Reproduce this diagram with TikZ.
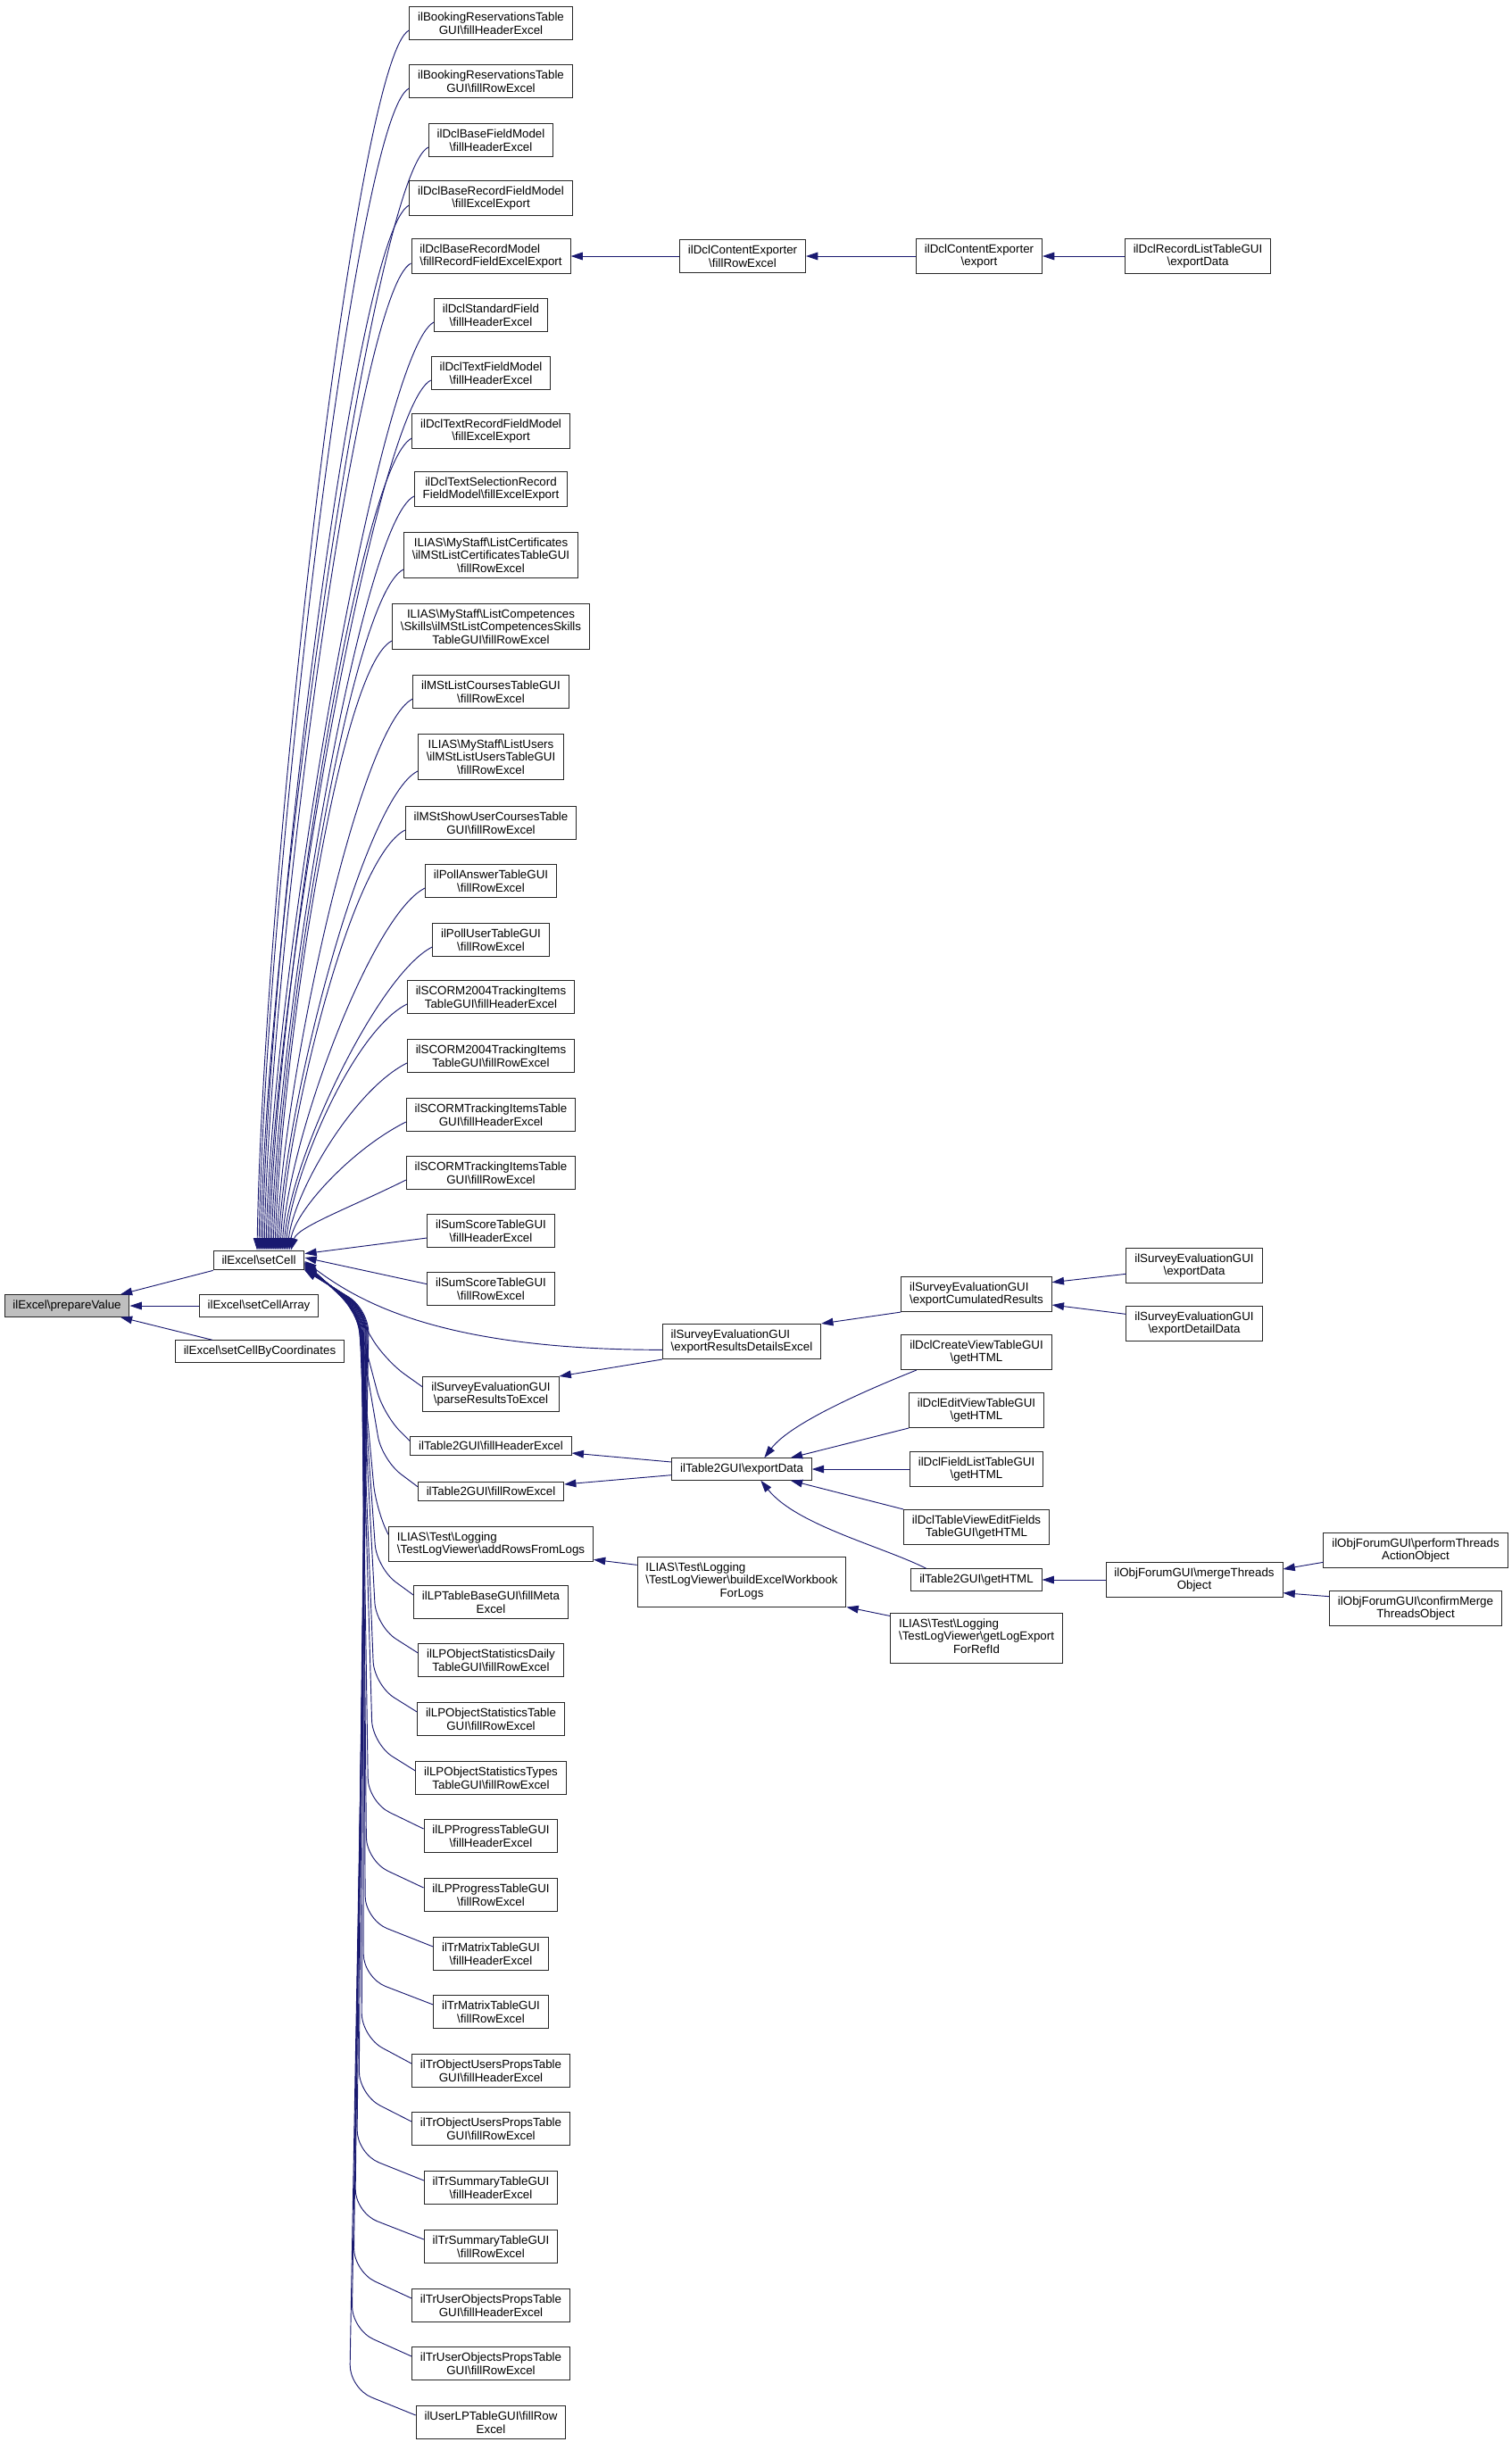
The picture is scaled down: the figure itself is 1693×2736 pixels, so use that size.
\documentclass[tikz,border=0pt]{standalone}
\usepackage{fontspec}
\setmainfont{Liberation Sans}
\usetikzlibrary{arrows.meta,calc}
\definecolor{midnightblue}{RGB}{25,25,112}
\newcommand{\bs}{\textbackslash}

\begin{document}
\begin{tikzpicture}[x=0.75pt, y=-0.75pt,
		box/.style={draw=black!85, line width=0.75pt, fill=white, align=center, inner xsep=7pt, inner ysep=4.5pt, font=\fontsize{10}{11}\selectfont},
		lbox/.style={box, align=left},
		call/.style={draw=midnightblue, line width=0.7pt, -{Triangle[length=10pt,width=6.5pt]}},
		bundle/.style={call, rounded corners=20pt}]
		\useasboundingbox (0,0) rectangle (1693,2736);
		% ilExcel:
		\node[box, fill=black!25] (prepareValue) at (75, 1463) {ilExcel\bs prepareValue};
		\node[box] (setCell) at (290, 1412) {ilExcel\bs setCell};
		\node[box] (setCellArray) at (290, 1463) {ilExcel\bs setCellArray};
		\node[box] (setCellByCoord) at (291, 1514) {ilExcel\bs setCellByCoordinates};
		% Callers of setCell:
		\node[box] (bookHead) at (550, 26) {ilBookingReservationsTable\\GUI\bs fillHeaderExcel};
		\node[box] (bookRow) at (550, 91) {ilBookingReservationsTable\\GUI\bs fillRowExcel};
		\node[box] (dclField) at (550, 157) {ilDclBaseFieldModel\\\bs fillHeaderExcel};
		\node[box] (dclRecField) at (550, 222) {ilDclBaseRecordFieldModel\\\bs fillExcelExport};
		\node[lbox] (dclRecModel) at (550, 287) {ilDclBaseRecordModel\\\bs fillRecordFieldExcelExport};
		\node[box] (dclStdField) at (550, 353) {ilDclStandardField\\\bs fillHeaderExcel};
		\node[box] (dclTextField) at (550, 418) {ilDclTextFieldModel\\\bs fillHeaderExcel};
		\node[box] (dclTextRec) at (550, 483) {ilDclTextRecordFieldModel\\\bs fillExcelExport};
		\node[box] (dclTextSel) at (550, 548) {ilDclTextSelectionRecord\\FieldModel\bs fillExcelExport};
		\node[box] (msCert) at (550, 622) {ILIAS\bs MyStaff\bs ListCertificates\\\bs ilMStListCertificatesTableGUI\\\bs fillRowExcel};
		\node[box] (msComp) at (550, 702) {ILIAS\bs MyStaff\bs ListCompetences\\\bs Skills\bs ilMStListCompetencesSkills\\TableGUI\bs fillRowExcel};
		\node[box] (msCourses) at (550, 775) {ilMStListCoursesTableGUI\\\bs fillRowExcel};
		\node[box] (msUsers) at (550, 848) {ILIAS\bs MyStaff\bs ListUsers\\\bs ilMStListUsersTableGUI\\\bs fillRowExcel};
		\node[box] (msShowUser) at (550, 922) {ilMStShowUserCoursesTable\\GUI\bs fillRowExcel};
		\node[box] (pollAnswer) at (550, 987) {ilPollAnswerTableGUI\\\bs fillRowExcel};
		\node[box] (pollUser) at (550, 1053) {ilPollUserTableGUI\\\bs fillRowExcel};
		\node[box] (scorm04Head) at (550, 1117) {ilSCORM2004TrackingItems\\TableGUI\bs fillHeaderExcel};
		\node[box] (scorm04Row) at (550, 1183) {ilSCORM2004TrackingItems\\TableGUI\bs fillRowExcel};
		\node[box] (scormHead) at (550, 1249) {ilSCORMTrackingItemsTable\\GUI\bs fillHeaderExcel};
		\node[box] (scormRow) at (550, 1314) {ilSCORMTrackingItemsTable\\GUI\bs fillRowExcel};
		\node[box] (sumHead) at (550, 1379) {ilSumScoreTableGUI\\\bs fillHeaderExcel};
		\node[box] (sumRow) at (550, 1444) {ilSumScoreTableGUI\\\bs fillRowExcel};
		\node[box] (svParse) at (550, 1562) {ilSurveyEvaluationGUI\\\bs parseResultsToExcel};
		\node[box] (t2Head) at (550, 1620) {ilTable2GUI\bs fillHeaderExcel};
		\node[box] (t2Row) at (550, 1671) {ilTable2GUI\bs fillRowExcel};
		\node[lbox] (logRows) at (550, 1730) {ILIAS\bs Test\bs Logging\\\bs TestLogViewer\bs addRowsFromLogs};
		\node[box] (lpMeta) at (550, 1795) {ilLPTableBaseGUI\bs fillMeta\\Excel};
		\node[box] (lpDaily) at (550, 1860) {ilLPObjectStatisticsDaily\\TableGUI\bs fillRowExcel};
		\node[box] (lpStats) at (550, 1926) {ilLPObjectStatisticsTable\\GUI\bs fillRowExcel};
		\node[box] (lpTypes) at (550, 1992) {ilLPObjectStatisticsTypes\\TableGUI\bs fillRowExcel};
		\node[box] (lpProgHead) at (550, 2057) {ilLPProgressTableGUI\\\bs fillHeaderExcel};
		\node[box] (lpProgRow) at (550, 2123) {ilLPProgressTableGUI\\\bs fillRowExcel};
		\node[box] (trMatHead) at (550, 2189) {ilTrMatrixTableGUI\\\bs fillHeaderExcel};
		\node[box] (trMatRow) at (550, 2254) {ilTrMatrixTableGUI\\\bs fillRowExcel};
		\node[box] (trObjHead) at (550, 2320) {ilTrObjectUsersPropsTable\\GUI\bs fillHeaderExcel};
		\node[box] (trObjRow) at (550, 2385) {ilTrObjectUsersPropsTable\\GUI\bs fillRowExcel};
		\node[box] (trSumHead) at (550, 2451) {ilTrSummaryTableGUI\\\bs fillHeaderExcel};
		\node[box] (trSumRow) at (550, 2517) {ilTrSummaryTableGUI\\\bs fillRowExcel};
		\node[box] (trUserHead) at (550, 2583) {ilTrUserObjectsPropsTable\\GUI\bs fillHeaderExcel};
		\node[box] (trUserRow) at (550, 2648) {ilTrUserObjectsPropsTable\\GUI\bs fillRowExcel};
		\node[box] (userLP) at (550, 2714) {ilUserLPTableGUI\bs fillRow\\Excel};
		% Further callers:
		\node[box] (contentFillRow) at (832, 287) {ilDclContentExporter\\\bs fillRowExcel};
		\node[box] (contentExport) at (1097, 287) {ilDclContentExporter\\\bs export};
		\node[box] (recordList) at (1342, 287) {ilDclRecordListTableGUI\\\bs exportData};
		\node[lbox] (svDetails) at (831, 1503) {ilSurveyEvaluationGUI\\\bs exportResultsDetailsExcel};
		\node[lbox] (svCumulated) at (1094, 1450) {ilSurveyEvaluationGUI\\\bs exportCumulatedResults};
		\node[box] (svExportData) at (1338, 1418) {ilSurveyEvaluationGUI\\\bs exportData};
		\node[box] (svDetailData) at (1338, 1483) {ilSurveyEvaluationGUI\\\bs exportDetailData};
		\node[box] (t2Export) at (831, 1646) {ilTable2GUI\bs exportData};
		\node[box] (dclCreateView) at (1094, 1515) {ilDclCreateViewTableGUI\\\bs getHTML};
		\node[box] (dclEditView) at (1094, 1580) {ilDclEditViewTableGUI\\\bs getHTML};
		\node[box] (dclFieldList) at (1094, 1646) {ilDclFieldListTableGUI\\\bs getHTML};
		\node[box] (dclTableView) at (1094, 1711) {ilDclTableViewEditFields\\TableGUI\bs getHTML};
		\node[box] (t2GetHTML) at (1094, 1770) {ilTable2GUI\bs getHTML};
		\node[box] (forumMerge) at (1338, 1770) {ilObjForumGUI\bs mergeThreads\\Object};
		\node[box] (forumPerform) at (1586, 1737) {ilObjForumGUI\bs performThreads\\ActionObject};
		\node[box] (forumConfirm) at (1586, 1802) {ilObjForumGUI\bs confirmMerge\\ThreadsObject};
		\node[box] (logBuild) at (831, 1772) {\begin{tabular}{@{}l@{}}ILIAS\bs Test\bs Logging\\\bs TestLogViewer\bs buildExcelWorkbook\\\multicolumn{1}{@{}c@{}}{ForLogs}\end{tabular}};
		\node[box] (logExport) at (1094, 1835) {\begin{tabular}{@{}l@{}}ILIAS\bs Test\bs Logging\\\bs TestLogViewer\bs getLogExport\\\multicolumn{1}{@{}c@{}}{ForRefId}\end{tabular}};
		% Calls into prepareValue:
		\draw[call] (setCell.south west) -- ([xshift=-8pt]prepareValue.north east);
		\draw[call] (setCellArray.west) -- (prepareValue.east);
		\draw[call] ($(setCellByCoord.north west)+(42,0)$) -- ([xshift=-8pt]prepareValue.south east);
		% Calls into setCell from above:
		\draw[call] ([yshift=-6pt]bookHead.west) .. controls +(-60,30) and +(7,-412) .. ($(setCell.north)+(-2,0)$);
		\draw[call] ([yshift=-6pt]bookRow.west) .. controls +(-60,30) and +(7,-392) .. ($(setCell.north)+(0,0)$);
		\draw[call] ([yshift=-6pt]dclField.west) .. controls +(-60,30) and +(7,-373) .. ($(setCell.north)+(2,0)$);
		\draw[call] ([yshift=-6pt]dclRecField.west) .. controls +(-60,30) and +(7,-353) .. ($(setCell.north)+(4,0)$);
		\draw[call] ([yshift=-6pt]dclRecModel.west) .. controls +(-60,30) and +(7,-334) .. ($(setCell.north)+(6,0)$);
		\draw[call] ([yshift=-6pt]dclStdField.west) .. controls +(-60,30) and +(7,-314) .. ($(setCell.north)+(8,0)$);
		\draw[call] ([yshift=-6pt]dclTextField.west) .. controls +(-60,30) and +(7,-294) .. ($(setCell.north)+(10,0)$);
		\draw[call] ([yshift=-6pt]dclTextRec.west) .. controls +(-60,30) and +(7,-275) .. ($(setCell.north)+(12,0)$);
		\draw[call] ([yshift=-6pt]dclTextSel.west) .. controls +(-60,30) and +(7,-255) .. ($(setCell.north)+(14,0)$);
		\draw[call] ([yshift=-12pt]msCert.west) .. controls +(-60,30) and +(7,-233) .. ($(setCell.north)+(16,0)$);
		\draw[call] ([yshift=-12pt]msComp.west) .. controls +(-60,30) and +(7,-209) .. ($(setCell.north)+(18,0)$);
		\draw[call] ([yshift=-6pt]msCourses.west) .. controls +(-60,30) and +(7,-187) .. ($(setCell.north)+(20,0)$);
		\draw[call] ([yshift=-12pt]msUsers.west) .. controls +(-60,30) and +(7,-165) .. ($(setCell.north)+(22,0)$);
		\draw[call] ([yshift=-6pt]msShowUser.west) .. controls +(-60,30) and +(7,-143) .. ($(setCell.north)+(24,0)$);
		\draw[call] ([yshift=-6pt]pollAnswer.west) .. controls +(-60,30) and +(7,-124) .. ($(setCell.north)+(26,0)$);
		\draw[call] ([yshift=-6pt]pollUser.west) .. controls +(-60,30) and +(7,-104) .. ($(setCell.north)+(28,0)$);
		\draw[call] ([yshift=-6pt]scorm04Head.west) .. controls +(-60,30) and +(7,-85) .. ($(setCell.north)+(30,0)$);
		\draw[call] ([yshift=-6pt]scorm04Row.west) .. controls +(-60,30) and +(7,-65) .. ($(setCell.north)+(32,0)$);
		\draw[call] ([yshift=-6pt]scormHead.west) .. controls +(-60,30) and +(7,-45) .. ($(setCell.north)+(34,0)$);
		\draw[call] ([yshift=-6pt]scormRow.west) .. controls +(-60,30) and +(7,-26) .. ($(setCell.north)+(36,0)$);
		\draw[call] ([yshift=-6pt]sumHead.west) -- ($(setCell.north east)+(0,4)$);
		% Calls into setCell from below:
		\draw[call] ([yshift=4pt]sumRow.west) -- ($(setCell.east)+(0,-3)$);
		\draw[call] ([yshift=-7pt]svDetails.west) .. controls +(-250,0) and +(60,45) .. ($(setCell.east)+(0,1)$);
		\draw[bundle] ([yshift=6pt]svParse.west) -- ++(-42,-30) -- ($(setCell.east)+(56,55)$) -- ($(setCell.east)+(0,2)$);
		\draw[bundle] ([yshift=4pt]t2Head.west) -- ++(-30,-30) -- ($(setCell.east)+(57,55)$) -- ($(setCell.east)+(0,3)$);
		\draw[bundle] ([yshift=4pt]t2Row.west) -- ++(-40,-30) -- ($(setCell.east)+(58,55)$) -- ($(setCell.east)+(0,3)$);
		\draw[bundle] ([yshift=8pt]logRows.west) -- ++(-14,-30) -- ($(setCell.east)+(59,55)$) -- ($(setCell.east)+(0,4)$);
		\draw[bundle] ([yshift=6pt]lpMeta.west) -- ++(-41,-30) -- ($(setCell.east)+(60,55)$) -- ($(setCell.east)+(0,4)$);
		\draw[bundle] ([yshift=6pt]lpDaily.west) -- ++(-47,-30) -- ($(setCell.east)+(61,55)$) -- ($(setCell.east)+(0,5)$);
		\draw[bundle] ([yshift=6pt]lpStats.west) -- ++(-48,-30) -- ($(setCell.east)+(61,55)$) -- ($(setCell.east)+(0,5)$);
		\draw[bundle] ([yshift=6pt]lpTypes.west) -- ++(-48,-30) -- ($(setCell.east)+(62,55)$) -- ($(setCell.east)+(0,6)$);
		\draw[bundle] ([yshift=6pt]lpProgHead.west) -- ++(-62,-30) -- ($(setCell.east)+(63,55)$) -- ($(setCell.east)+(0,6)$);
		\draw[bundle] ([yshift=6pt]lpProgRow.west) -- ++(-64,-30) -- ($(setCell.east)+(64,55)$) -- ($(setCell.east)+(0,7)$);
		\draw[bundle] ([yshift=6pt]trMatHead.west) -- ++(-76,-30) -- ($(setCell.east)+(65,55)$) -- ($(setCell.east)+(0,7)$);
		\draw[bundle] ([yshift=6pt]trMatRow.west) -- ++(-78,-30) -- ($(setCell.east)+(66,55)$) -- ($(setCell.east)+(0,8)$);
		\draw[bundle] ([yshift=6pt]trObjHead.west) -- ++(-56,-30) -- ($(setCell.east)+(67,55)$) -- ($(setCell.east)+(0,8)$);
		\draw[bundle] ([yshift=6pt]trObjRow.west) -- ++(-59,-30) -- ($(setCell.east)+(68,55)$) -- ($(setCell.east)+(0,9)$);
		\draw[bundle] ([yshift=6pt]trSumHead.west) -- ++(-75,-30) -- ($(setCell.east)+(69,55)$) -- ($(setCell.east)+(0,9)$);
		\draw[bundle] ([yshift=6pt]trSumRow.west) -- ++(-77,-30) -- ($(setCell.east)+(69,55)$) -- ($(setCell.east)+(0,10)$);
		\draw[bundle] ([yshift=6pt]trUserHead.west) -- ++(-65,-30) -- ($(setCell.east)+(70,55)$) -- ($(setCell.east)+(0,10)$);
		\draw[bundle] ([yshift=6pt]trUserRow.west) -- ++(-67,-30) -- ($(setCell.east)+(71,55)$) -- ($(setCell.east)+(0,11)$);
		\draw[bundle] ([yshift=6pt]userLP.west) -- ++(-74,-30) -- ($(setCell.east)+(72,55)$) -- ($(setCell.east)+(0,11)$);
		% Data collection chain:
		\draw[call] (contentFillRow.west) -- (dclRecModel.east);
		\draw[call] (contentExport.west) -- (contentFillRow.east);
		\draw[call] (recordList.west) -- (contentExport.east);
		% Survey:
		\draw[call] (svDetails.south west) -- (svParse.north east);
		\draw[call] (svCumulated.south west) -- (svDetails.north east);
		\draw[call] ([yshift=-7pt]svExportData.west) -- ([yshift=10pt]svCumulated.east);
		\draw[call] ([yshift=8pt]svDetailData.west) -- ([yshift=-9pt]svCumulated.east);
		% Table2GUI:
		\draw[call] ([yshift=6pt]t2Export.west) -- ([yshift=-6pt]t2Head.east);
		\draw[call] ([yshift=-5pt]t2Export.west) -- ([yshift=6pt]t2Row.east);
		\draw[call] ([xshift=13pt]dclCreateView.south west) .. controls +(-50,20) and +(30,-40) .. ([xshift=19pt]t2Export.north);
		\draw[call] (dclEditView.south west) -- ([xshift=-18pt]t2Export.north east);
		\draw[call] (dclFieldList.west) -- (t2Export.east);
		\draw[call] (dclTableView.north west) -- ([xshift=-18pt]t2Export.south east);
		\draw[call] ([xshift=13pt]t2GetHTML.north west) .. controls +(-50,-25) and +(40,50) .. ([xshift=16pt]t2Export.south);
		\draw[call] (forumMerge.west) -- (t2GetHTML.east);
		\draw[call] ([yshift=-10pt]forumPerform.west) -- ([yshift=9pt]forumMerge.east);
		\draw[call] ([yshift=10pt]forumConfirm.west) -- ([yshift=-11pt]forumMerge.east);
		% Test log:
		\draw[call] ([yshift=14pt]logBuild.west) -- ([yshift=-13pt]logRows.east);
		\draw[call] ([yshift=-3pt]logExport.north west) -- (logBuild.south east);
	\end{tikzpicture}
\end{document}
